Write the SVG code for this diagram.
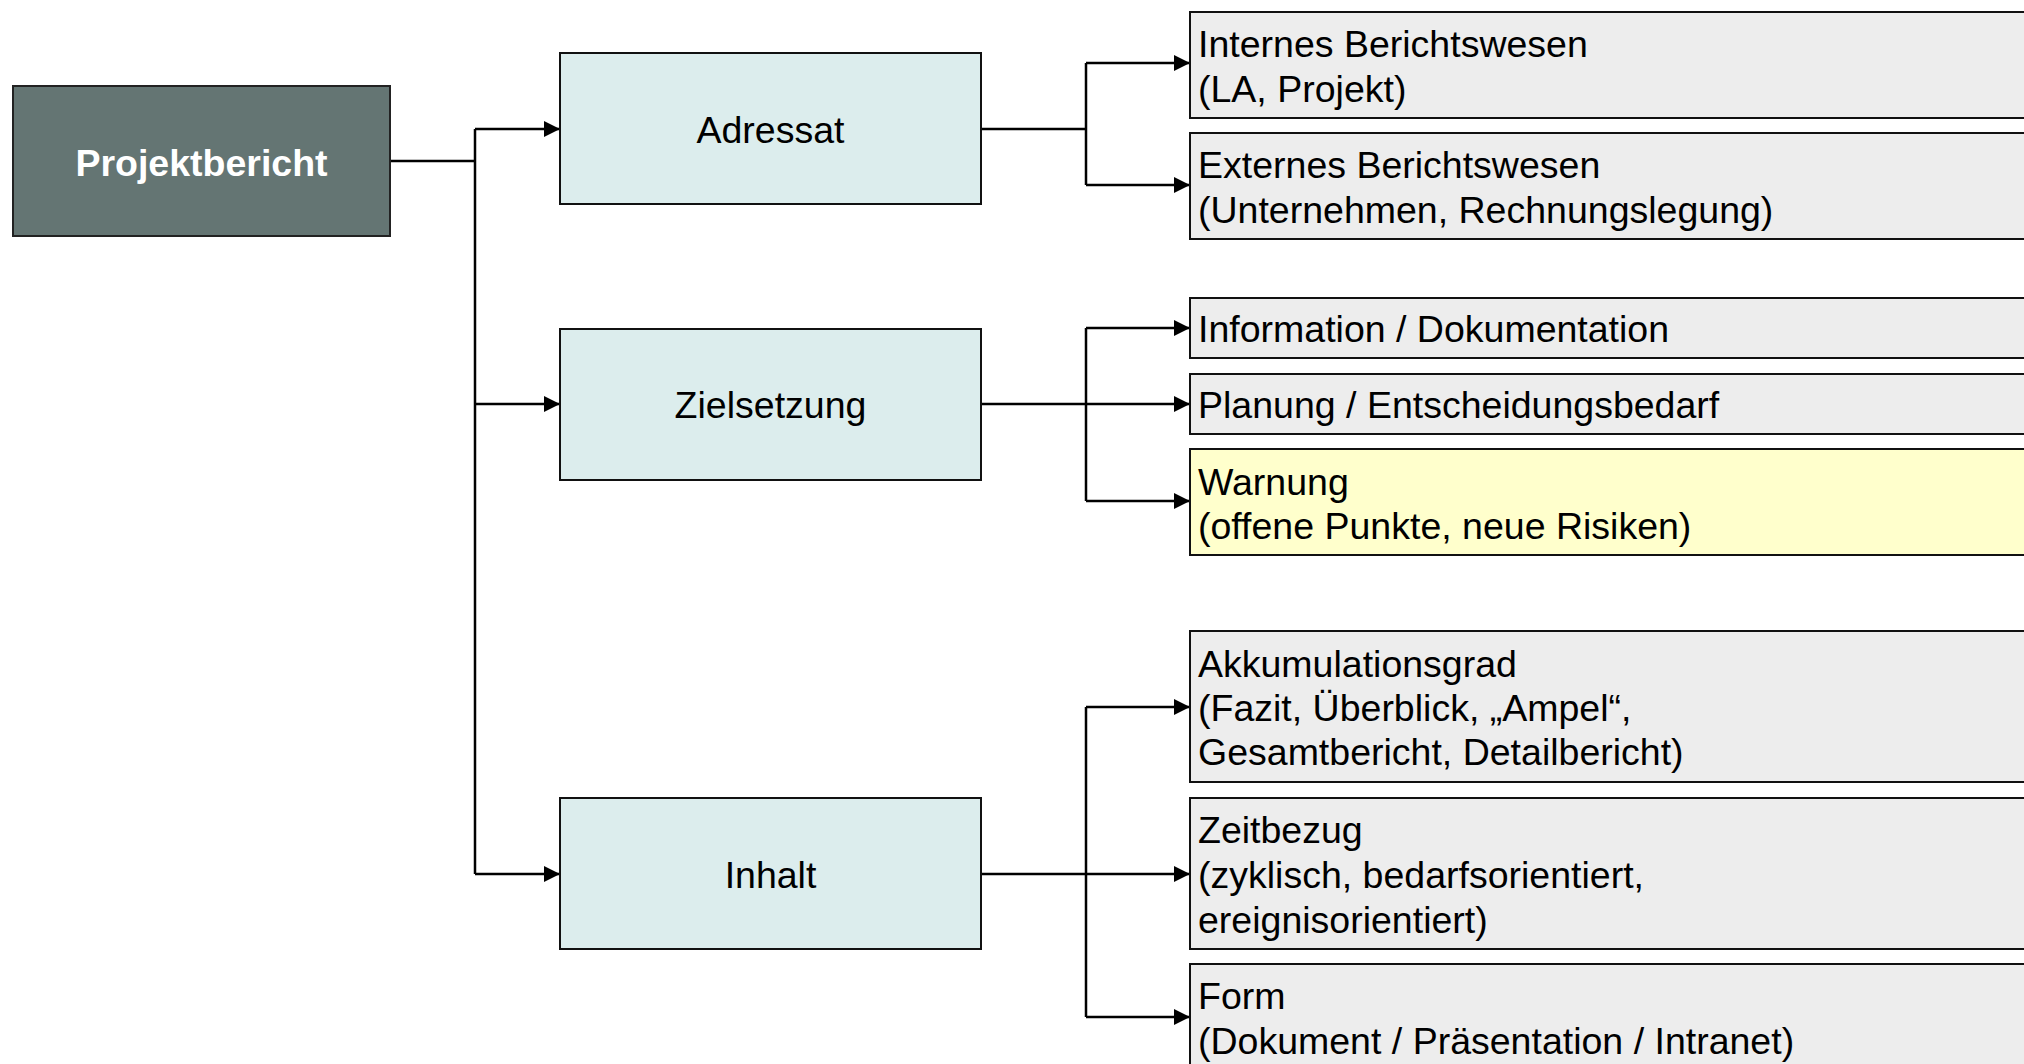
<svg xmlns="http://www.w3.org/2000/svg" width="2024" height="1064" viewBox="0 0 2024 1064">
<defs>
<marker id="arr" viewBox="0 0 10 10" refX="10" refY="5" markerWidth="16" markerHeight="16" markerUnits="userSpaceOnUse" orient="auto">
<path d="M0,0 L10,5 L0,10 Z" fill="#000"/>
</marker>
<style>
.t{font-family:"Liberation Sans",Arial,sans-serif;font-size:37.5px;fill:#000}
.tb{font-family:"Liberation Sans",Arial,sans-serif;font-size:37.5px;font-weight:bold;fill:#fff}
.root{fill:#647573;stroke:#222;stroke-width:2}
.mid{fill:#DCEDED;stroke:#111;stroke-width:2}
.leaf{fill:#EDEDED;stroke:#111;stroke-width:2}
.warn{fill:#FFFFCC;stroke:#111;stroke-width:2}
.c{fill:none;stroke:#000;stroke-width:2.5}
.a{fill:none;stroke:#000;stroke-width:2.5;marker-end:url(#arr)}
</style>
</defs>
<rect width="2024" height="1064" fill="#fff"/>
<g id="connectors">
<path class="c" d="M390,161 H475 M475,129 V874"/>
<path class="a" d="M475,129 H560"/>
<path class="a" d="M475,404 H560"/>
<path class="a" d="M475,874 H560"/>
<path class="c" d="M981,129 H1086 M1086,63 V185"/>
<path class="a" d="M1086,63 H1190"/>
<path class="a" d="M1086,185 H1190"/>
<path class="c" d="M981,404 H1086 M1086,328 V501"/>
<path class="a" d="M1086,328 H1190"/>
<path class="a" d="M1086,404 H1190"/>
<path class="a" d="M1086,501 H1190"/>
<path class="c" d="M981,874 H1086 M1086,707 V1017"/>
<path class="a" d="M1086,707 H1190"/>
<path class="a" d="M1086,874 H1190"/>
<path class="a" d="M1086,1017 H1190"/>
</g>
<g id="projektbericht">
<rect class="root" x="13" y="86" width="377" height="150"/>
<text class="tb" x="201.5" y="176" text-anchor="middle">Projektbericht</text>
</g>
<g id="adressat">
<rect class="mid" x="560" y="53" width="421" height="151"/>
<text class="t" x="770.5" y="143" text-anchor="middle">Adressat</text>
</g>
<g id="zielsetzung">
<rect class="mid" x="560" y="329" width="421" height="151"/>
<text class="t" x="770.5" y="418" text-anchor="middle">Zielsetzung</text>
</g>
<g id="inhalt">
<rect class="mid" x="560" y="798" width="421" height="151"/>
<text class="t" x="770.5" y="888" text-anchor="middle">Inhalt</text>
</g>
<g id="internes">
<rect class="leaf" x="1190" y="12" width="850" height="106"/>
<text class="t" x="1198" y="57">Internes Berichtswesen</text>
<text class="t" x="1198" y="102">(LA, Projekt)</text>
</g>
<g id="externes">
<rect class="leaf" x="1190" y="133" width="850" height="106"/>
<text class="t" x="1198" y="178">Externes Berichtswesen</text>
<text class="t" x="1198" y="223">(Unternehmen, Rechnungslegung)</text>
</g>
<g id="information">
<rect class="leaf" x="1190" y="298" width="850" height="60"/>
<text class="t" x="1198" y="342">Information / Dokumentation</text>
</g>
<g id="planung">
<rect class="leaf" x="1190" y="374" width="850" height="60"/>
<text class="t" x="1198" y="418">Planung / Entscheidungsbedarf</text>
</g>
<g id="warnung">
<rect class="warn" x="1190" y="449" width="850" height="106"/>
<text class="t" x="1198" y="495">Warnung</text>
<text class="t" x="1198" y="539">(offene Punkte, neue Risiken)</text>
</g>
<g id="akkumulationsgrad">
<rect class="leaf" x="1190" y="631" width="850" height="151"/>
<text class="t" x="1198" y="677">Akkumulationsgrad</text>
<text class="t" x="1198" y="721">(Fazit, Überblick, „Ampel“,</text>
<text class="t" x="1198" y="765">Gesamtbericht, Detailbericht)</text>
</g>
<g id="zeitbezug">
<rect class="leaf" x="1190" y="798" width="850" height="151"/>
<text class="t" x="1198" y="843">Zeitbezug</text>
<text class="t" x="1198" y="888">(zyklisch, bedarfsorientiert,</text>
<text class="t" x="1198" y="933">ereignisorientiert)</text>
</g>
<g id="form">
<rect class="leaf" x="1190" y="964" width="850" height="120"/>
<text class="t" x="1198" y="1009">Form</text>
<text class="t" x="1198" y="1054">(Dokument / Präsentation / Intranet)</text>
</g>
</svg>
